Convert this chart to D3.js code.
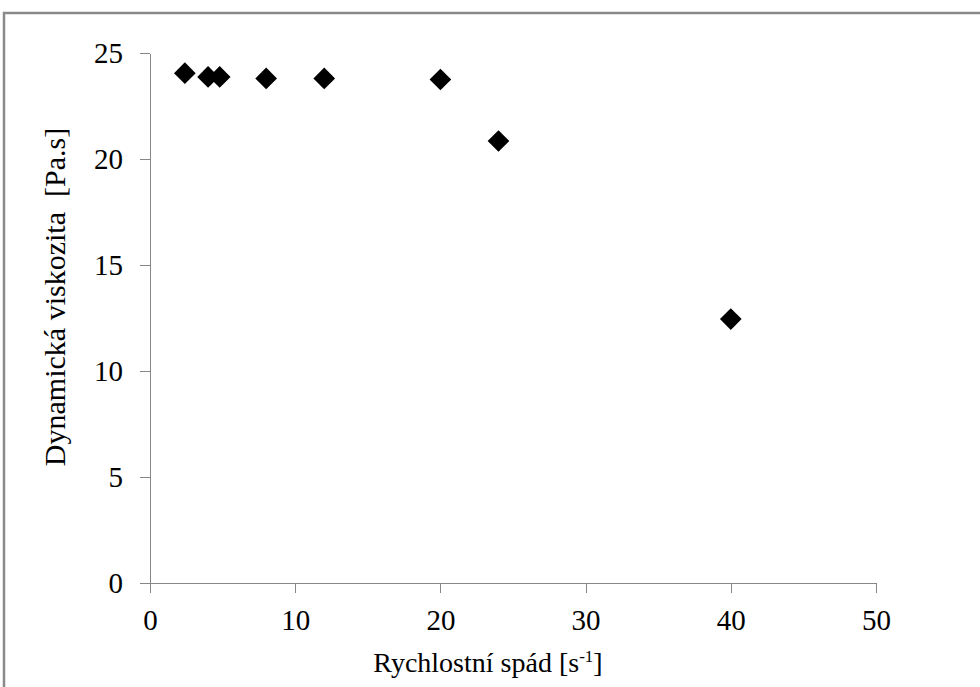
<!DOCTYPE html>
<html>
<head>
<meta charset="utf-8">
<script src="https://cdn.jsdelivr.net/npm/d3@7"></script>
<style>
  body { margin: 0; background: #fff; }
  svg { display: block; font-family: "Liberation Serif", "Times New Roman", serif; }
</style>
</head>
<body>
<div id="chart"></div>
<script>
// shear rate [1/s] vs dynamic viscosity [Pa.s]
const shearRate = [2.4, 4.0, 4.8, 8, 12, 20, 24, 40];
const viscosity = [24.05, 23.87, 23.87, 23.8, 23.8, 23.75, 20.85, 12.45];
const xTicks = [0, 10, 20, 30, 40, 50];
const yTicks = [0, 5, 10, 15, 20, 25];

const width = 980;
const height = 687;
const margin = {top: 53, right: 104, bottom: 104, left: 150};

const svg = d3.select("#chart")
    .append("svg")
    .attr("width", width)
    .attr("height", height);

// outer frame (only left and top edges are visible in the picture)
svg.append("path")
    .attr("d", `M4,${height}V13H${width}`)
    .attr("fill", "none")
    .attr("stroke", "#8a8a8a")
    .attr("stroke-width", 2.5);

const x = d3.scaleLinear()
    .domain([0, 50])
    .range([margin.left, width - margin.right]);

const y = d3.scaleLinear()
    .domain([0, 25])
    .range([height - margin.bottom, margin.top]);

const xAxis = svg.append("g")
    .attr("transform", `translate(0,${height - margin.bottom})`)
    .call(d3.axisBottom(x).tickValues(xTicks).tickSize(10).tickSizeOuter(0).tickPadding(16));

const yAxis = svg.append("g")
    .attr("transform", `translate(${margin.left},0)`)
    .call(d3.axisLeft(y).tickValues(yTicks).tickSize(10).tickSizeOuter(0).tickPadding(17));

[xAxis, yAxis].forEach(g => {
  g.selectAll("path, line").attr("stroke", "#878787").attr("shape-rendering", "crispEdges");
  g.selectAll("text").attr("fill", "#000").style("font-size", "29px")
      .style("font-family", "'Liberation Serif', 'Times New Roman', serif");
});

// axis titles
svg.append("text")
    .attr("transform", `translate(65,297) rotate(-90)`)
    .attr("text-anchor", "middle")
    .attr("xml:space", "preserve")
    .style("font-size", "30px")
    .text("Dynamická viskozita  [Pa.s]");

const xt = svg.append("text")
    .attr("x", 488)
    .attr("y", 672)
    .attr("text-anchor", "middle")
    .style("font-size", "28px");
xt.append("tspan").text("Rychlostní spád [s");
xt.append("tspan").attr("dy", -10).style("font-size", "17px").text("-1");
xt.append("tspan").attr("dy", 10).text("]");

// diamonds
const diamond = d3.symbol().type(d3.symbolSquare).size(235);
svg.append("g")
    .selectAll()
    .data(d3.zip(shearRate, viscosity))
    .join("path")
    .attr("d", diamond)
    .attr("transform", d => `translate(${x(d[0])},${y(d[1])}) rotate(45)`)
    .attr("fill", "#000");
</script>
</body>
</html>
